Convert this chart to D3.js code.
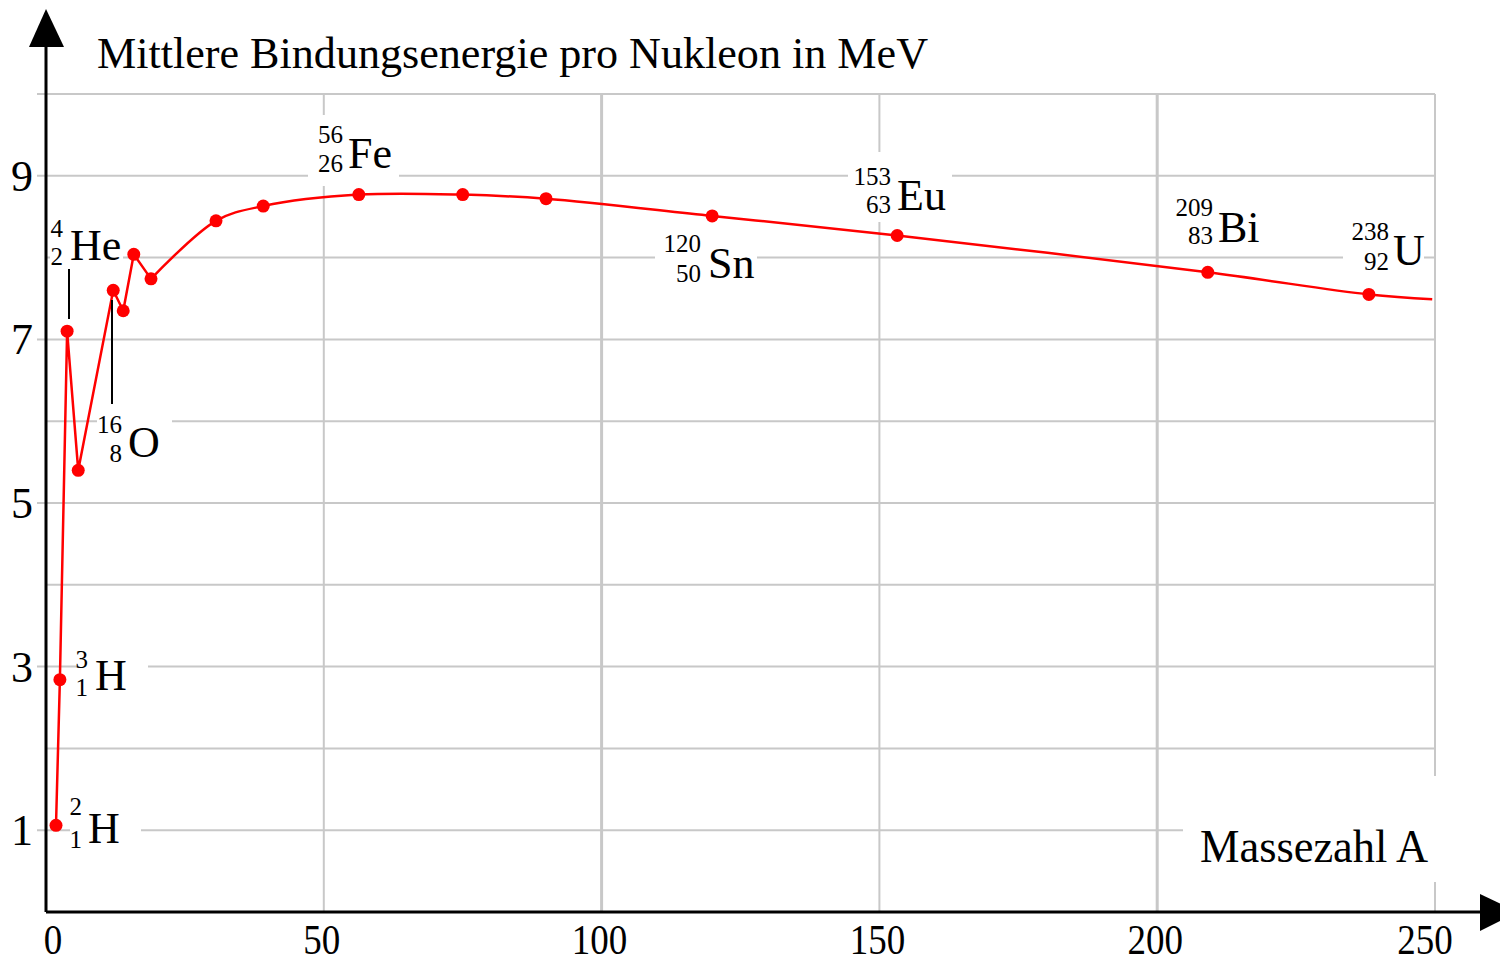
<!DOCTYPE html>
<html><head><meta charset="utf-8">
<script src="https://cdnjs.cloudflare.com/ajax/libs/d3/7.8.5/d3.min.js"></script>
<style>html,body{margin:0;padding:0;background:#fff;overflow:hidden}svg{display:block}</style>
</head><body>
<script>
// ---- data ----
const massNumbers = [1.8, 2.5, 3.8, 5.8, 12.1, 13.9, 15.8, 18.9, 30.6, 39.1, 56.3, 75, 90, 119.9, 153.2, 209.1, 238.1];
const bindingEnergy = [1.06, 2.84, 7.10, 5.40, 7.60, 7.35, 8.04, 7.74, 8.45, 8.63, 8.77, 8.77, 8.72, 8.51, 8.27, 7.82, 7.55];
const curveEnd = {A: 249.5, E: 7.49};
const xTicks = [0, 50, 100, 150, 200, 250];
const yTicksLabelled = [1, 3, 5, 7, 9];
const yGrid = [1, 2, 3, 4, 5, 6, 7, 8, 9, 10];
const isoSymbols = ["H", "H", "He", "O", "Fe", "Sn", "Eu", "Bi", "U"];
const isoMass = ["2", "3", "4", "16", "56", "120", "153", "209", "238"];
const isoZ = ["1", "1", "2", "8", "26", "50", "63", "83", "92"];
const title = "Mittlere Bindungsenergie pro Nukleon in MeV";
const xTitle = "Massezahl A";

// ---- layout ----
const W = 1500, H = 964;
const x = d3.scaleLinear().domain([0, 250]).range([46, 1435]);
const y = d3.scaleLinear().domain([0, 10]).range([912, 94]);
const FONT = "'Liberation Serif', 'Times New Roman', serif";
// label layout: right edge of numbers, baselines, symbol x, white box [x0,y0,x1,y1]
const labelLayout = [
  {nx: 82, mb: 815, zb: 848, sx: 88,  sb: 843, box: [70, 800, 141, 858]},
  {nx: 88, mb: 668, zb: 696, sx: 95,  sb: 690, box: [78, 645, 148, 700]},
  {nx: 63, mb: 237, zb: 265, sx: 70,  sb: 260, box: [50, 215, 123, 268]},
  {nx: 122, mb: 433, zb: 462, sx: 128, sb: 457, box: [97, 410, 172, 468]},
  {nx: 343, mb: 143, zb: 172, sx: 348, sb: 168, box: [308, 115, 399, 186]},
  {nx: 701, mb: 252, zb: 282, sx: 708, sb: 278, box: [655, 232, 757, 290]},
  {nx: 891, mb: 185, zb: 213, sx: 897, sb: 210, box: [848, 152, 952, 222]},
  {nx: 1213, mb: 216, zb: 244, sx: 1218, sb: 242, box: [1170, 195, 1262, 250]},
  {nx: 1389, mb: 240, zb: 270, sx: 1393, sb: 265, box: [1343, 220, 1424, 275]}
];

const svg = d3.select("body").append("svg").attr("width", W).attr("height", H);

// horizontal grid
svg.append("g").selectAll("line").data(yGrid).join("line")
  .attr("x1", d => (yTicksLabelled.includes(d) || d === 10) ? 37 : 46)
  .attr("x2", x(250))
  .attr("y1", d => y(d)).attr("y2", d => y(d))
  .attr("stroke", "#c8c8c8").attr("stroke-width", 2);

// vertical grid
svg.append("g").selectAll("line").data(xTicks.slice(1)).join("line")
  .attr("x1", d => x(d)).attr("x2", d => x(d))
  .attr("y1", y(10)).attr("y2", y(0))
  .attr("stroke", "#c8c8c8").attr("stroke-width", d => d % 100 === 0 ? 3 : 2);

// white boxes behind labels
svg.append("g").selectAll("rect").data(labelLayout).join("rect")
  .attr("x", d => d.box[0]).attr("y", d => d.box[1])
  .attr("width", d => d.box[2] - d.box[0]).attr("height", d => d.box[3] - d.box[1])
  .attr("fill", "#fff");
svg.append("rect").attr("x", 1183).attr("y", 776).attr("width", 260).attr("height", 106).attr("fill", "#fff");

// axes
svg.append("line").attr("x1", x(0)).attr("x2", 1482).attr("y1", y(0)).attr("y2", y(0))
  .attr("stroke", "#000").attr("stroke-width", 3);
svg.append("line").attr("x1", x(0)).attr("x2", x(0)).attr("y1", 44).attr("y2", y(0))
  .attr("stroke", "#000").attr("stroke-width", 3);
svg.append("path").attr("d", "M46,9 L29,47 L64,47 Z").attr("fill", "#000");
svg.append("path").attr("d", "M1480,894 L1518,912 L1480,931 Z").attr("fill", "#000");

// tick labels
svg.append("g").selectAll("text").data(yTicksLabelled).join("text")
  .attr("x", 22).attr("y", d => y(d) + 15)
  .attr("text-anchor", "middle")
  .attr("font-family", FONT).attr("font-size", 44)
  .text(d => d);
svg.append("g").selectAll("text").data(xTicks).join("text")
  .attr("x", (d, i) => i === 0 ? 53 : x(d) - (i === 5 ? 10 : 2))
  .attr("y", 954)
  .attr("text-anchor", "middle")
  .attr("font-family", FONT).attr("font-size", 42)
  .attr("textLength", d => String(d).length * 18.5).attr("lengthAdjust", "spacingAndGlyphs")
  .text(d => d);

// titles
svg.append("text").attr("x", 97).attr("y", 68)
  .attr("font-family", FONT).attr("font-size", 45)
  .attr("textLength", 831).attr("lengthAdjust", "spacingAndGlyphs")
  .text(title);
svg.append("text").attr("x", 1200).attr("y", 862)
  .attr("font-family", FONT).attr("font-size", 46)
  .attr("textLength", 228).attr("lengthAdjust", "spacingAndGlyphs")
  .text(xTitle);

// data
const pts = massNumbers.map((a, i) => ({A: a, E: bindingEnergy[i]}));
const lineLin = d3.line().x(d => x(d.A)).y(d => y(d.E));
const lineSmooth = d3.line().x(d => x(d.A)).y(d => y(d.E)).curve(d3.curveCatmullRom.alpha(0.5));
svg.append("path").datum(pts.slice(0, 8)).attr("d", lineLin)
  .attr("fill", "none").attr("stroke", "#ff0000").attr("stroke-width", 2.5);
svg.append("path").datum(pts.slice(7).concat([curveEnd])).attr("d", lineSmooth)
  .attr("fill", "none").attr("stroke", "#ff0000").attr("stroke-width", 2.5);
svg.append("g").selectAll("circle").data(pts).join("circle")
  .attr("cx", d => x(d.A)).attr("cy", d => y(d.E)).attr("r", 6.5)
  .attr("fill", "#ff0000");

// leader lines
svg.append("line").attr("x1", 69).attr("x2", 69).attr("y1", 269).attr("y2", 319)
  .attr("stroke", "#000").attr("stroke-width", 2);
svg.append("line").attr("x1", 112).attr("x2", 112).attr("y1", 300).attr("y2", 404)
  .attr("stroke", "#000").attr("stroke-width", 2);

// isotope labels
const lg = svg.append("g").attr("font-family", FONT);
labelLayout.forEach((L, i) => {
  lg.append("text").attr("x", L.nx).attr("y", L.mb).attr("text-anchor", "end")
    .attr("font-size", 25).text(isoMass[i]);
  lg.append("text").attr("x", L.nx).attr("y", L.zb).attr("text-anchor", "end")
    .attr("font-size", 25).text(isoZ[i]);
  lg.append("text").attr("x", L.sx).attr("y", L.sb)
    .attr("font-size", 44).text(isoSymbols[i]);
});
</script>
</body></html>
